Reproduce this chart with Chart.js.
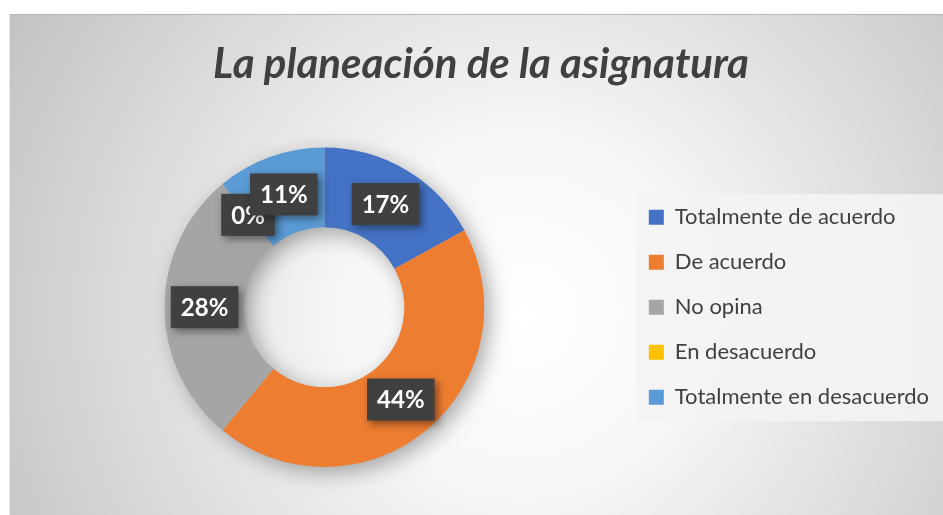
<!DOCTYPE html>
<html>
<head>
<meta charset="utf-8">
<script src="https://cdn.jsdelivr.net/npm/chart.js@4.4.1/dist/chart.umd.min.js"></script>
<style>
  html, body { margin: 0; padding: 0; background: #fff; overflow: hidden; }
  #wrap { position: absolute; left: 9px; top: 14px; width: 934px; height: 501px; }
</style>
</head>
<body>
<div id="wrap"><canvas id="chart"></canvas></div>
<script>
const title = 'La planeación de la asignatura'
const categories = ['Totalmente de acuerdo', 'De acuerdo', 'No opina', 'En desacuerdo', 'Totalmente en desacuerdo']
const percentages = [17, 44, 28, 0, 11]
const colors = ['#4472c4', '#ed7d31', '#a5a5a5', '#ffc000', '#5b9bd5']

// background gradient, frame edge and legend panel
const backdrop = {
  id: 'backdrop',
  beforeDraw (chart) {
    const { ctx, width, height } = chart
    ctx.save()
    const g = ctx.createRadialGradient(width * 0.55, height * 0.6, 0, width * 0.55, height * 0.6, 580)
    g.addColorStop(0, '#ffffff')
    g.addColorStop(0.3, '#f7f7f7')
    g.addColorStop(1, '#c4c4c4')
    ctx.fillStyle = g
    ctx.fillRect(0, 0, width, height)
    ctx.fillStyle = '#b5b5b5'
    ctx.fillRect(0, 0, width, 1)
    ctx.fillStyle = '#e8e8e8'
    ctx.fillRect(0, 0, 1, height)

    const lg = chart.legend
    if (lg && lg.legendHitBoxes.length) {
      const hb = lg.legendHitBoxes
      const x0 = hb[0].left - 12
      const y0 = hb[0].top - 12
      const y1 = hb[hb.length - 1].top + hb[hb.length - 1].height + 13
      ctx.fillStyle = 'rgba(243,243,243,0.92)'
      ctx.fillRect(x0, y0, width - x0, y1 - y0)
    }
    ctx.restore()
  }
}

// soft shadow under the ring
const ringShadow = {
  id: 'ringShadow',
  beforeDatasetsDraw (chart) {
    const arc = chart.getDatasetMeta(0).data[0]
    if (!arc) return
    const { ctx } = chart
    const { x, y, innerRadius, outerRadius } = arc.getProps(['x', 'y', 'innerRadius', 'outerRadius'])
    ctx.save()
    ctx.shadowColor = 'rgba(0,0,0,0.35)'
    ctx.shadowBlur = 22
    ctx.shadowOffsetX = 6
    ctx.shadowOffsetY = 6
    ctx.fillStyle = '#bbbbbb'
    ctx.beginPath()
    ctx.arc(x, y, outerRadius - 1, 0, Math.PI * 2)
    ctx.arc(x, y, innerRadius + 1, 0, Math.PI * 2, true)
    ctx.fill()
    ctx.restore()
  }
}

// dark value boxes with white percentages
const valueBoxes = {
  id: 'valueBoxes',
  afterDatasetsDraw (chart) {
    const { ctx } = chart
    const meta = chart.getDatasetMeta(0)
    ctx.save()
    ctx.font = 'bold 24px Lato'
    ctx.textAlign = 'center'
    ctx.textBaseline = 'middle'
    meta.data.forEach((arc, i) => {
      const p = arc.tooltipPosition()
      const text = percentages[i] + '%'
      const w = ctx.measureText(text).width + 20
      const h = 42
      ctx.save()
      ctx.shadowColor = 'rgba(0,0,0,0.45)'
      ctx.shadowBlur = 8
      ctx.shadowOffsetX = 3
      ctx.shadowOffsetY = 3
      ctx.fillStyle = '#404040'
      ctx.fillRect(p.x - w / 2, p.y - h / 2, w, h)
      ctx.restore()
      ctx.fillStyle = '#ffffff'
      ctx.fillText(text, p.x, p.y + 1)
    })
    ctx.restore()
  }
}

const chart = new Chart('chart', {
  type: 'doughnut',
  data: {
    labels: categories,
    datasets: [{
      data: percentages,
      backgroundColor: colors,
      borderWidth: 0
    }]
  },
  options: {
    responsive: true,
    maintainAspectRatio: false,
    animation: false,
    cutout: '50%',
    layout: { padding: { left: 14, right: 4, top: 0, bottom: 48 } },
    plugins: {
      title: {
        display: true,
        text: title,
        color: '#404040',
        font: { family: 'Lato', size: 42, style: 'italic', weight: 'bold' },
        padding: { top: 25, bottom: 58 }
      },
      legend: {
        position: 'right',
        fullSize: false,
        labels: {
          color: '#404040',
          font: { family: 'Lato', size: 22 },
          boxWidth: 15,
          boxHeight: 15,
          padding: 23
        }
      },
      tooltip: { enabled: false }
    }
  },
  plugins: [backdrop, ringShadow, valueBoxes]
})
</script>
</body>
</html>
